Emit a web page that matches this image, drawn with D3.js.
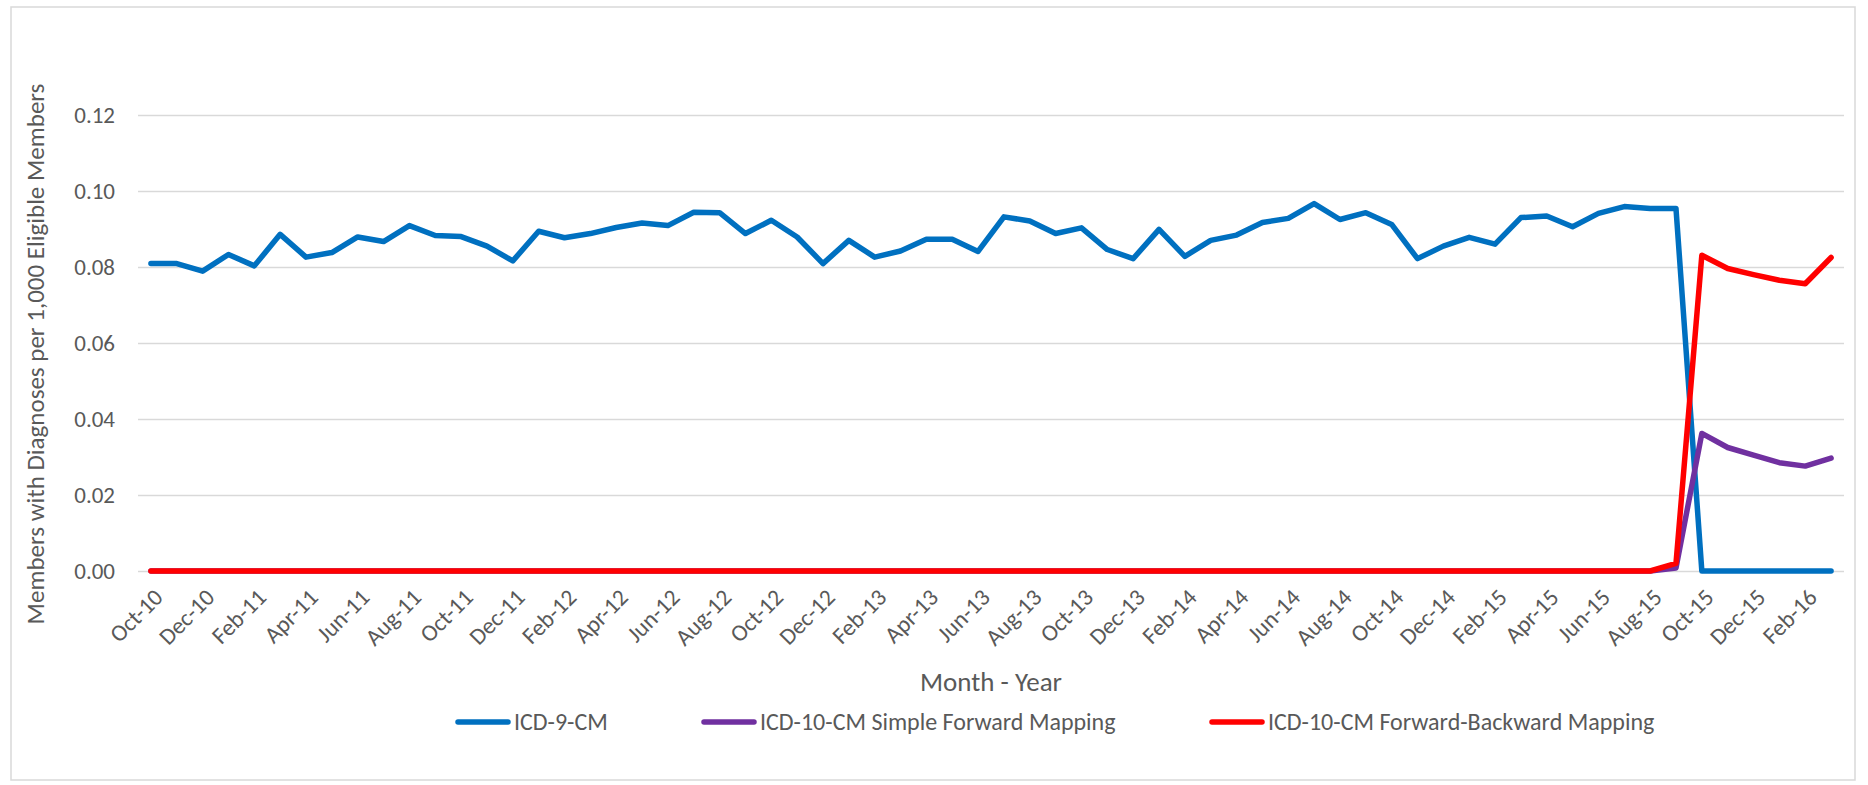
<!DOCTYPE html>
<html>
<head>
<meta charset="utf-8">
<script src="https://cdn.jsdelivr.net/npm/d3@7"></script>
<style>
  body { margin: 0; background: #fff; }
  text { font-family: Calibri, Carlito, "Liberation Sans Narrow", "Open Sans", sans-serif; fill: #595959; }
</style>
</head>
<body>
<svg id="chart" width="1868" height="785"></svg>
<script>
// months shown on the category axis
const months = [
  "Oct-10","Nov-10","Dec-10","Jan-11","Feb-11","Mar-11","Apr-11","May-11","Jun-11","Jul-11","Aug-11","Sep-11",
  "Oct-11","Nov-11","Dec-11","Jan-12","Feb-12","Mar-12","Apr-12","May-12","Jun-12","Jul-12","Aug-12","Sep-12",
  "Oct-12","Nov-12","Dec-12","Jan-13","Feb-13","Mar-13","Apr-13","May-13","Jun-13","Jul-13","Aug-13","Sep-13",
  "Oct-13","Nov-13","Dec-13","Jan-14","Feb-14","Mar-14","Apr-14","May-14","Jun-14","Jul-14","Aug-14","Sep-14",
  "Oct-14","Nov-14","Dec-14","Jan-15","Feb-15","Mar-15","Apr-15","May-15","Jun-15","Jul-15","Aug-15","Sep-15",
  "Oct-15","Nov-15","Dec-15","Jan-16","Feb-16","Mar-16"
];

const icd9 = [
  0.0809,0.0809,0.0789,0.0833,0.0803,0.0886,0.0826,0.0838,0.0879,0.0867,0.0909,0.0883,
  0.0880,0.0855,0.0816,0.0894,0.0877,0.0888,0.0904,0.0916,0.0909,0.0944,0.0943,0.0888,
  0.0923,0.0879,0.0809,0.0870,0.0826,0.0842,0.0873,0.0873,0.0841,0.0932,0.0921,0.0888,
  0.0903,0.0846,0.0822,0.0899,0.0828,0.0870,0.0884,0.0917,0.0928,0.0967,0.0925,0.0943,
  0.0912,0.0822,0.0855,0.0878,0.0860,0.0930,0.0934,0.0906,0.0941,0.0959,0.0954,0.0954,
  0,0,0,0,0,0
];

const icd10Simple = [
  0,0,0,0,0,0,0,0,0,0,0,0,
  0,0,0,0,0,0,0,0,0,0,0,0,
  0,0,0,0,0,0,0,0,0,0,0,0,
  0,0,0,0,0,0,0,0,0,0,0,0,
  0,0,0,0,0,0,0,0,0,0,0,0.0008,
  0.0362,0.0325,0.0305,0.0285,0.0276,0.0297
];

const icd10FwdBwd = [
  0,0,0,0,0,0,0,0,0,0,0,0,
  0,0,0,0,0,0,0,0,0,0,0,0,
  0,0,0,0,0,0,0,0,0,0,0,0,
  0,0,0,0,0,0,0,0,0,0,0,0,
  0,0,0,0,0,0,0,0,0,0,0,0.0020,
  0.0831,0.0796,0.0780,0.0765,0.0756,0.0825
];

const yTicks = [0, 0.02, 0.04, 0.06, 0.08, 0.10, 0.12];
const seriesNames = ["ICD-9-CM", "ICD-10-CM Simple Forward Mapping", "ICD-10-CM Forward-Backward Mapping"];
const seriesColors = ["#0070C0", "#7030A0", "#FF0000"];

const svg = d3.select('#chart');
const plotLeft = 138, plotRight = 1844, plotTop = 115, plotBottom = 571;

// outer chart border
svg.append('rect')
  .attr('x', 11).attr('y', 7)
  .attr('width', 1844).attr('height', 773)
  .style('fill', 'none')
  .style('stroke', '#d9d9d9')
  .style('stroke-width', 1.5);

const x = d3.scalePoint().domain(months).range([plotLeft, plotRight]).padding(0.5);
const y = d3.scaleLinear().domain([0, 0.12]).range([plotBottom, plotTop]);

// y axis + gridlines
const yAxis = svg.append('g')
  .attr('transform', `translate(${plotLeft},0)`)
  .call(d3.axisLeft(y).tickValues(yTicks).tickFormat(d3.format('.2f')).tickSize(-(plotRight - plotLeft)).tickPadding(23));
yAxis.select('.domain').remove();
yAxis.selectAll('line').style('stroke', '#d9d9d9').style('stroke-width', 1.5);
yAxis.selectAll('text').style('font-size', '23px').style('fill', '#595959');

// x axis labels, every second month, rotated
const xAxis = svg.append('g')
  .attr('transform', `translate(0,${plotBottom})`)
  .call(d3.axisBottom(x).tickValues(months.filter((d, i) => i % 2 === 0)).tickSize(0));
xAxis.select('.domain').remove();
xAxis.selectAll('text')
  .style('font-size', '23.5px')
  .style('fill', '#595959')
  .attr('text-anchor', 'end')
  .attr('dy', '0.35em')
  .attr('y', 0)
  .attr('transform', 'translate(7,22) rotate(-45)');

// lines
const line = d3.line().x((d, i) => x(months[i])).y(d => y(d));
[icd9, icd10Simple, icd10FwdBwd].forEach((vals, k) => {
  svg.append('path')
    .datum(vals)
    .attr('d', line)
    .style('fill', 'none')
    .style('stroke', seriesColors[k])
    .style('stroke-width', 5.5)
    .style('stroke-linejoin', 'round')
    .style('stroke-linecap', 'round');
});

// axis titles
svg.append('text')
  .attr('transform', 'translate(44,354) rotate(-90)')
  .attr('text-anchor', 'middle')
  .style('font-size', '25px')
  .text('Members with Diagnoses per 1,000 Eligible Members');

svg.append('text')
  .attr('x', (plotLeft + plotRight) / 2)
  .attr('y', 691)
  .attr('text-anchor', 'middle')
  .style('font-size', '27px')
  .text('Month - Year');

// legend
const legendX = [458, 704, 1212];
const legend = svg.selectAll('.legend')
  .data(seriesNames)
  .enter()
  .append('g')
  .attr('class', 'legend')
  .attr('transform', (d, i) => `translate(${legendX[i]},722)`);
legend.append('line')
  .attr('x1', 0).attr('x2', 50)
  .style('stroke', (d, i) => seriesColors[i])
  .style('stroke-width', 5.5)
  .style('stroke-linecap', 'round');
legend.append('text')
  .attr('x', 56)
  .attr('dy', '0.35em')
  .style('font-size', '24px')
  .text(d => d);
</script>
</body>
</html>
